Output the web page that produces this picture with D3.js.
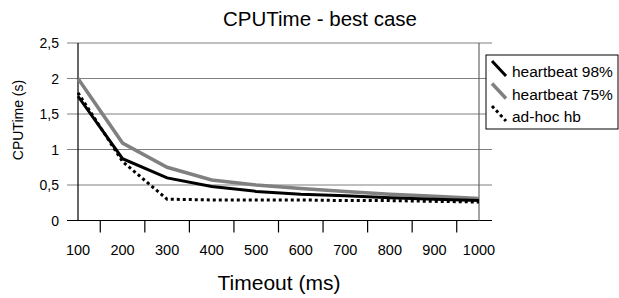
<!DOCTYPE html>
<html lang="en">
<head>
    <meta charset="UTF-8">
    <title>CPUTime - best case</title>
    <script src="https://d3js.org/d3.v7.min.js"></script>
    <style>
        body { margin: 0; background: #fff; }
        text { font-family: "Liberation Sans", Arial, sans-serif; fill: #000; }
    </style>
</head>
<body>
    <div id="chart"></div>
    <script>
        // Data
        const timeouts = [100, 200, 300, 400, 500, 600, 700, 800, 900, 1000];
        const hb98 = [1.75, 0.87, 0.60, 0.48, 0.41, 0.37, 0.35, 0.32, 0.30, 0.28];
        const hb75 = [2.0, 1.09, 0.75, 0.57, 0.50, 0.45, 0.41, 0.37, 0.34, 0.31];
        const adhoc = [1.8, 0.83, 0.30, 0.29, 0.29, 0.29, 0.28, 0.28, 0.27, 0.26];
        const yTicks = [0, 0.5, 1, 1.5, 2, 2.5];

        const series = [
            { name: "heartbeat 98%", values: hb98, color: "#000", width: 3, dash: null },
            { name: "heartbeat 75%", values: hb75, color: "#808080", width: 3.5, dash: null },
            { name: "ad-hoc hb", values: adhoc, color: "#000", width: 3, dash: "3,3" }
        ];

        const width = 619, height = 298;
        const svg = d3.select("#chart").append("svg").attr("width", width).attr("height", height);

        const x = d3.scalePoint().domain(timeouts).range([78, 479]);
        const y = d3.scaleLinear().domain([0, 2.5]).range([220.5, 43]);
        const fmt = d => String(d).replace(".", ",");

        // gridlines
        svg.append("g").selectAll("line").data(yTicks).join("line")
            .attr("x1", 67).attr("x2", 492)
            .attr("y1", d => y(d)).attr("y2", d => y(d))
            .attr("stroke", d => d === 0 ? "#000" : "#808080")
            .attr("stroke-width", 1.2);

        // vertical axis lines
        svg.append("line").attr("x1", 78).attr("x2", 78).attr("y1", y(2.5)).attr("y2", y(0))
            .attr("stroke", "#000").attr("stroke-width", 1.2);
        svg.append("line").attr("x1", 479).attr("x2", 479).attr("y1", y(2.5)).attr("y2", y(0))
            .attr("stroke", "#666").attr("stroke-width", 1.2);

        // y tick labels
        svg.append("g").selectAll("text").data(yTicks).join("text")
            .attr("x", 59).attr("y", d => y(d) + 5)
            .attr("text-anchor", "end").attr("font-size", 14)
            .text(fmt);

        // x ticks between categories
        const step = x.step();
        svg.append("g").selectAll("line").data(timeouts.slice(0, -1)).join("line")
            .attr("x1", d => x(d) + step / 2).attr("x2", d => x(d) + step / 2)
            .attr("y1", y(0)).attr("y2", y(0) + 12)
            .attr("stroke", "#000").attr("stroke-width", 1.2);

        svg.append("g").selectAll("text").data(timeouts).join("text")
            .attr("x", d => x(d)).attr("y", 255)
            .attr("text-anchor", "middle").attr("font-size", 14.5)
            .text(d => d);

        // lines
        const line = d3.line().x((d, i) => x(timeouts[i])).y(d => y(d));
        svg.append("g").selectAll("path").data([series[1], series[0], series[2]]).join("path")
            .attr("d", d => line(d.values))
            .attr("fill", "none")
            .attr("stroke", d => d.color)
            .attr("stroke-width", d => d.width)
            .attr("stroke-dasharray", d => d.dash);

        // titles
        svg.append("text").attr("x", 320).attr("y", 26).attr("text-anchor", "middle")
            .attr("font-size", 20.5).text("CPUTime - best case");
        svg.append("text").attr("x", 279).attr("y", 290).attr("text-anchor", "middle")
            .attr("font-size", 21).text("Timeout (ms)");
        svg.append("text").attr("transform", "translate(23,120) rotate(-90)")
            .attr("text-anchor", "middle").attr("font-size", 14).text("CPUTime (s)");

        // legend
        const lg = svg.append("g");
        lg.append("rect").attr("x", 486).attr("y", 55).attr("width", 132).attr("height", 74)
            .attr("fill", "#fff").attr("stroke", "#000").attr("stroke-width", 1);
        series.forEach((s, i) => {
            const base = 77 + i * 22.5;
            lg.append("line").attr("x1", 492).attr("y1", base - 16).attr("x2", 506).attr("y2", base - 1)
                .attr("stroke", s.color).attr("stroke-width", s.width)
                .attr("stroke-dasharray", s.dash);
            lg.append("text").attr("x", 512).attr("y", base).attr("font-size", 15.5).text(s.name);
        });
    </script>
</body>
</html>
